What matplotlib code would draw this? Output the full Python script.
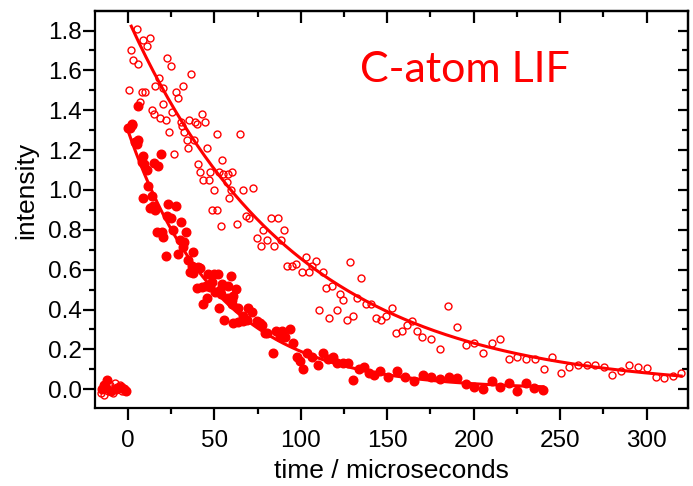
import numpy as np
import matplotlib
matplotlib.use("Agg")
import matplotlib.pyplot as plt
from matplotlib.ticker import MultipleLocator, FormatStrFormatter

plt.rcParams['font.family'] = ['Liberation Sans', 'DejaVu Sans']

RED = '#ff0000'

# filled circles (fast decay)
filled_t = [-15, -13.5, -12, -10, -7, -4, -2, -1,
            0.35, 1.3, 2.3, 2.7, 4.2, 5.2, 6.1, 6.1, 8.1, 9.0, 9.4, 9.0,
            11.0, 11.9, 12.9, 13.9, 14.8, 15.0, 15.8, 16.8, 17.7, 19.1,
            19.7, 20.6, 22.0, 22.5, 23.5, 25.0, 26.4, 27.7, 28.9, 30.2,
            30.8, 31.8, 32.7, 33.5, 35.0, 36.0, 37.0, 37.6, 37.9, 38.9,
            39.9, 40.5, 42.0, 42.8, 43.7, 45.3, 45.7, 46.6, 47.6, 48.6,
            49.9, 50.5, 52.0, 52.8, 53.4, 53.9, 54.7, 55.8, 57.8, 58.2,
            59.7, 60.1, 60.1, 61.0, 62.3, 61.0, 63.9, 63.9, 66.8, 66.8,
            68.8, 69.7, 71.7, 74.6, 76.5, 77.5, 79.4, 80.7, 83.8, 85.7,
            88.0, 89.0, 90.9, 93.8, 95.7, 97.7, 99.6, 101.5, 103.8, 106.4,
            109.8, 112.7, 116.0, 118.5, 121.2, 124.6, 127.5, 130.4, 133.9, 136.6,
            139.7, 142.4, 145.8, 150.3, 155.5, 160.5, 165.4, 170.5, 175.5, 180.5,
            185.5, 190.3, 195.4, 200.3, 205.3, 210.4, 215.2, 220.2, 225.3, 230.2,
            235.0, 240.3]
filled_y = [0.0, 0.02, 0.045, -0.01, 0.0, 0.01, 0.0, -0.01,
            1.31, 1.31, 1.325, 1.33, 1.24, 1.23, 1.25, 1.42, 1.14, 1.17, 1.13, 0.96,
            1.10, 1.02, 0.91, 0.97, 0.92, 1.135, 0.90, 0.79, 1.12, 1.18,
            0.79, 0.765, 0.67, 0.87, 0.93, 0.86, 0.80, 0.92, 0.68, 0.75,
            0.84, 0.715, 0.74, 0.79, 0.65, 0.59, 0.62, 0.69, 0.585, 0.61,
            0.51, 0.615, 0.61, 0.515, 0.43, 0.52, 0.46, 0.58, 0.515, 0.54,
            0.58, 0.49, 0.58, 0.41, 0.50, 0.48, 0.53, 0.35, 0.52, 0.46,
            0.57, 0.45, 0.43, 0.33, 0.505, 0.47, 0.41, 0.335, 0.34, 0.37,
            0.35, 0.41, 0.39, 0.34, 0.33, 0.32, 0.28, 0.28, 0.18, 0.29,
            0.26, 0.29, 0.26, 0.30, 0.23, 0.16, 0.14, 0.10, 0.18, 0.16,
            0.12, 0.18, 0.15, 0.16, 0.13, 0.13, 0.13, 0.047, 0.10, 0.11,
            0.08, 0.07, 0.09, 0.06, 0.09, 0.06, 0.04, 0.07, 0.06, 0.05,
            0.06, 0.055, 0.027, 0.013, 0.002, 0.042, 0.013, 0.03, -0.008, 0.03,
            0.005, -0.002]

# open circles (slow decay)
open_t = [-15.5, -14.5, -13.5, -12.5, -11.5, -10.5, -9.5, -8.5, -7.5, -6.5,
          -5.5, -4.5, -3.5, -2.5, -1.5,
          0.9, 1.9, 3.2, 5.2, 5.8, 7.1, 8.1, 9.0, 10.0, 11.0,
          12.9, 13.9, 15.2, 15.8, 18.1, 18.7, 20.2, 20.6, 22.0, 22.5,
          23.9, 25.0, 25.8, 26.8, 27.7, 28.9, 30.8, 31.6, 32.0, 32.7,
          34.1, 35.0, 35.6, 36.6, 38.3, 38.9, 40.1, 40.8, 42.0, 42.8,
          43.7, 44.7, 45.8, 47.0, 47.6, 48.9, 49.9, 51.4, 51.8, 52.8,
          53.9, 54.7, 55.3, 57.2, 58.2, 58.7, 59.7, 60.5, 63.0, 64.9,
          66.8, 68.4, 70.3, 72.6, 74.6, 76.9, 78.4, 80.3, 82.7, 84.6,
          86.7, 88.6, 90.5, 92.3, 94.8, 97.1, 100.6, 102.9, 104.8, 106.7,
          108.7, 110.4, 112.7, 114.5, 116.5, 118.3, 120.8, 122.7, 124.6, 126.6,
          128.5, 130.4, 132.4, 134.7, 137.6, 140.6, 143.5, 146.4, 149.3, 152.6,
          155.0, 158.4, 161.3, 164.5, 167.1, 170.3, 175.3, 180.5, 185.3, 190.2,
          195.5, 200.3, 205.5, 210.4, 215.2, 220.4, 225.2, 230.2, 235.4, 240.6,
          245.4, 250.3, 255.3, 260.1, 265.3, 270.4, 275.2, 280.2, 285.0, 290.0,
          295.2, 300.2, 305.2, 310.0, 315.0, 320.0]
open_y = [-0.02, 0.0, -0.03, 0.01, -0.01, 0.02, 0.0, -0.02, 0.03, 0.01,
          0.0, 0.02, -0.01, 0.0, -0.01,
          1.50, 1.70, 1.65, 1.81, 1.63, 1.44, 1.49, 1.75, 1.49, 1.72,
          1.76, 1.40, 1.38, 1.52, 1.56, 1.36, 1.51, 1.43, 1.35, 1.66,
          1.29, 1.62, 1.39, 1.18, 1.49, 1.46, 1.34, 1.32, 1.52, 1.29,
          1.25, 1.21, 1.35, 1.58, 1.25, 1.34, 1.33, 1.13, 1.09, 1.38,
          1.05, 1.34, 1.21, 1.05, 1.09, 0.90, 1.00, 0.90, 1.28, 1.09,
          0.82, 1.15, 1.08, 1.04, 1.08, 0.96, 1.00, 1.09, 0.83, 1.28,
          1.00, 0.87, 0.86, 1.01, 0.76, 0.72, 0.80, 0.75, 0.86, 0.72,
          0.86, 0.75, 0.80, 0.62, 0.62, 0.63, 0.59, 0.665, 0.59, 0.62,
          0.645, 0.40, 0.59, 0.51, 0.36, 0.52, 0.40, 0.48, 0.45, 0.35,
          0.64, 0.37, 0.46, 0.56, 0.43, 0.43, 0.36, 0.35, 0.37, 0.41,
          0.28, 0.29, 0.32, 0.34, 0.29, 0.26, 0.25, 0.20, 0.42, 0.31,
          0.22, 0.23, 0.18, 0.23, 0.25, 0.15, 0.16, 0.15, 0.15, 0.10,
          0.16, 0.08, 0.11, 0.12, 0.12, 0.12, 0.11, 0.07, 0.09, 0.12,
          0.11, 0.105, 0.063, 0.055, 0.068, 0.083]

# single-exponential fits: amplitude, lifetime, time range
fast_amp, fast_tau, fast_range = 1.30, 52.0, (0, 240)
slow_amp, slow_tau, slow_range = 1.86, 96.0, (2, 320)

fig = plt.figure(figsize=(6.93, 4.86), dpi=100)
ax = fig.add_axes([0.137, 0.1605, 0.856, 0.8165])

ax.plot(open_t, open_y, 'o', ms=5.0, mfc='none', mec=RED, mew=1.0)
ax.plot(filled_t, filled_y, 'o', ms=6.2, color=RED, mec=RED)

t1 = np.linspace(*fast_range, 300)
ax.plot(t1, fast_amp * np.exp(-t1 / fast_tau), color=RED, lw=2.2)
t2 = np.linspace(*slow_range, 300)
ax.plot(t2, slow_amp * np.exp(-t2 / slow_tau), color=RED, lw=2.2)

ax.set_xlim(-19, 324)
ax.set_ylim(-0.094, 1.897)
ax.xaxis.set_major_locator(MultipleLocator(50))
ax.xaxis.set_minor_locator(MultipleLocator(25))
ax.yaxis.set_major_locator(MultipleLocator(0.2))
ax.yaxis.set_minor_locator(MultipleLocator(0.1))
ax.yaxis.set_major_formatter(FormatStrFormatter('%.1f'))

for s in ax.spines.values():
    s.set_linewidth(1.6)

ax.tick_params(which='both', direction='out', width=1.6, labelsize=17.5,
               top=False, right=False)
ax.tick_params(which='major', length=8.5)
ax.tick_params(which='minor', length=4.5)
ax.tick_params(axis='x', pad=7)
ax.tick_params(axis='y', pad=1)

# inward ticks on the top and right edges
sec_x = ax.secondary_xaxis('top')
sec_x.xaxis.set_major_locator(MultipleLocator(50))
sec_x.xaxis.set_minor_locator(MultipleLocator(25))
sec_x.tick_params(which='both', direction='in', width=1.6, labeltop=False)
sec_x.tick_params(which='major', length=8.5)
sec_x.tick_params(which='minor', length=4.5)
sec_x.spines['top'].set_linewidth(1.6)
sec_y = ax.secondary_yaxis('right')
sec_y.yaxis.set_major_locator(MultipleLocator(0.2))
sec_y.yaxis.set_minor_locator(MultipleLocator(0.1))
sec_y.tick_params(which='both', direction='in', width=1.6, labelright=False)
sec_y.tick_params(which='major', length=7.5)
sec_y.tick_params(which='minor', length=4.5)
sec_y.spines['right'].set_linewidth(1.6)

ax.set_xlabel('time / microseconds', fontsize=19)
ax.set_ylabel('intensity', fontsize=19)
ax.xaxis.set_label_coords(0.5, -0.128)
ax.yaxis.set_label_coords(-0.095, 0.549)

ax.text(0.624, 0.853, 'C-atom LIF', transform=ax.transAxes, color=RED,
        fontsize=31, ha='center', va='center', family=['Lato', 'DejaVu Sans'])

fig.savefig('out.png', dpi=100)
